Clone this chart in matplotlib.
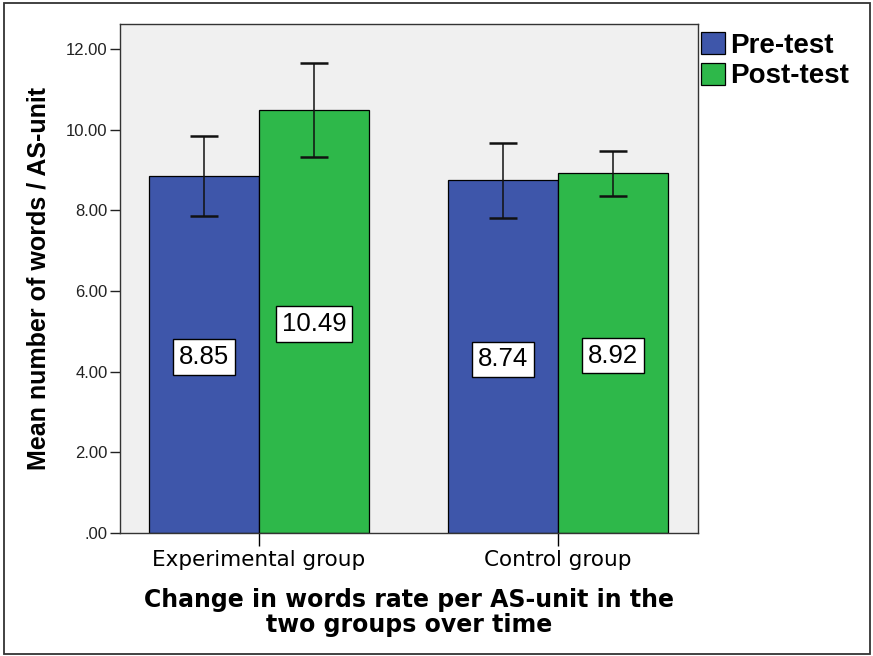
import matplotlib
matplotlib.use("Agg")
import matplotlib.pyplot as plt
from matplotlib.patches import Rectangle
from matplotlib.ticker import FuncFormatter
import numpy as np

plt.rcParams['font.family'] = ['Liberation Sans', 'DejaVu Sans']

groups = ["Experimental group", "Control group"]
series = ["Pre-test", "Post-test"]
means = {"Pre-test": [8.85, 8.74], "Post-test": [10.49, 8.92]}
err_low = {"Pre-test": [7.86, 7.81], "Post-test": [9.32, 8.36]}
err_high = {"Pre-test": [9.84, 9.67], "Post-test": [11.65, 9.47]}
colors = {"Pre-test": "#3E56AA", "Post-test": "#2EB84A"}
yticks = [0, 2, 4, 6, 8, 10, 12]

W, H = 873, 656
fig = plt.figure(figsize=(W / 100, H / 100), dpi=100)
fig.patch.set_facecolor("white")
fig.patches.append(Rectangle((4 / W, 2 / H), 866 / W, 651 / H, transform=fig.transFigure,
                             fill=False, edgecolor="#333333", linewidth=1.3))

ax = fig.add_axes([120 / W, (H - 533) / H, 578 / W, 509 / H])
ax.set_facecolor("#F0F0F0")

x = np.arange(len(groups))
bw = 110 / 299
for i, s in enumerate(series):
    pos = x + (i - 0.5) * bw
    vals = np.array(means[s])
    lo = vals - np.array(err_low[s])
    hi = np.array(err_high[s]) - vals
    ax.bar(pos, vals, width=bw, color=colors[s], edgecolor="black", linewidth=0.9,
           label=s, zorder=2)
    ax.errorbar(pos, vals, yerr=[lo, hi], fmt="none", ecolor="#111111", elinewidth=1.1,
                capsize=10, capthick=1.8, zorder=3)
    for p, v in zip(pos, vals):
        ax.text(p, v / 2, f"{v:.2f}", ha="center", va="center_baseline", fontsize=18.5,
                zorder=4,
                bbox=dict(boxstyle="square,pad=0.22", facecolor="white", edgecolor="black",
                          linewidth=1.0))

ax.set_xlim(-(259 - 120) / 299, 1 + (698 - 558) / 299)
ax.set_ylim(0, (533 - 24) / (484 / 12))
ax.set_yticks(yticks)
ax.yaxis.set_major_formatter(FuncFormatter(lambda v, p: f"{v:.2f}".lstrip("0") if v < 1 else f"{v:.2f}"))
ax.set_xticks(x)
ax.set_xticklabels(groups, fontsize=15.5, family=["DejaVu Sans"])
ax.tick_params(axis="y", labelsize=12, length=7, width=1, direction="out", colors="#222222",
               pad=2)
ax.tick_params(axis="x", length=9, width=1, direction="out", pad=3)
for sp in ax.spines.values():
    sp.set_color("#333333")
    sp.set_linewidth(1.0)

ax.set_ylabel("Mean number of words / AS-unit", fontsize=18, fontweight="bold", labelpad=11)
ax.set_xlabel("Change in words rate per AS-unit in the\ntwo groups over time", fontsize=17,
              fontweight="bold", family=["DejaVu Sans"], labelpad=13, linespacing=1.05)

leg = ax.legend(loc="upper left", bbox_to_anchor=(1.0, 0.99), frameon=False,
                prop=dict(weight="bold", size=20), handlelength=0.86, handleheight=0.86,
                handletextpad=0.2, labelspacing=0.14, borderaxespad=0.0, borderpad=0.1)
for h in leg.legend_handles:
    h.set_edgecolor("black")

fig.savefig("out.png", dpi=100)
